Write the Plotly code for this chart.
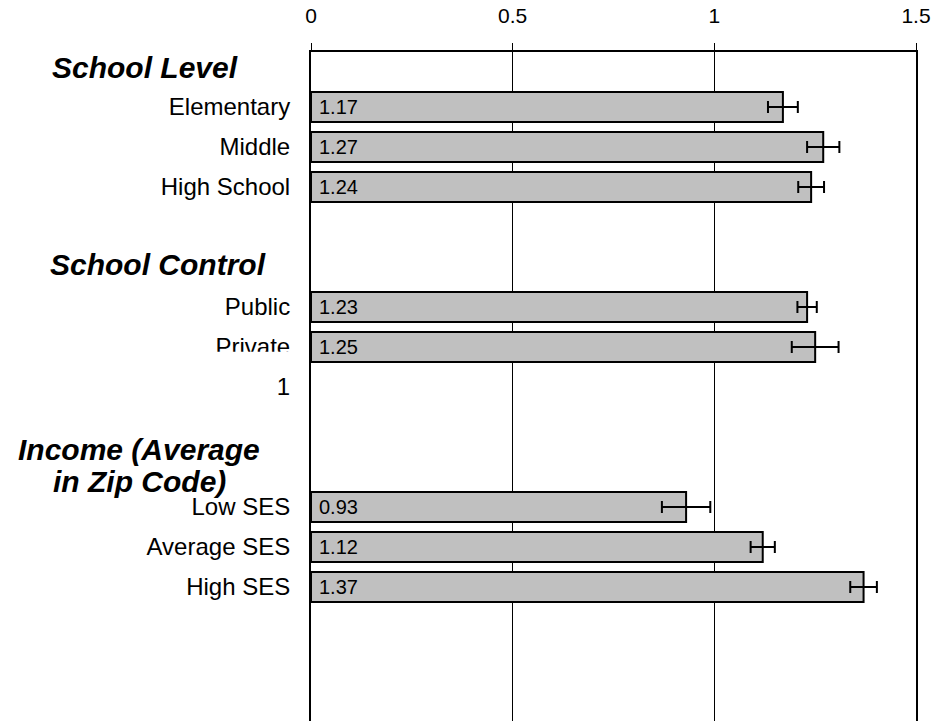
import plotly.graph_objects as go

# ---- data ----
categories = ["Elementary", "Middle", "High School", "Public", "Private",
              "Low SES", "Average SES", "High SES"]
values = [1.17, 1.27, 1.24, 1.23, 1.25, 0.93, 1.12, 1.37]
errors = [0.037, 0.040, 0.032, 0.024, 0.058, 0.060, 0.030, 0.033]
headers = ["School Level", "School Control", "Income (Average<br>in Zip Code)"]
stray_labels = ["1"]
x_ticks = [0, 0.5, 1, 1.5]
x_ticktext = ["0", "0.5", "1", "1.5"]

# row order of the category axis (top to bottom)
row_order = ([headers[0]] + categories[0:3] + ["gap1", headers[1]] +
             categories[3:5] + stray_labels + ["gap2", headers[2]] +
             categories[5:8] + ["gap3", "gap4", "gap5"])

header_xshift = [-166, -153, -172]
header_yshift = [0, 3, 2]
LINE_SP = 32

fig = go.Figure()
fig.add_trace(go.Bar(
    x=values, y=categories, orientation="h", width=0.75,
    marker=dict(color="#C0C0C0", line=dict(color="black", width=2)),
    error_x=dict(type="data", array=errors, color="black", thickness=2, width=6),
    showlegend=False, hoverinfo="x+y",
))

annotations = []
for cat, v in zip(categories, values):
    annotations.append(dict(
        x=0, y=row_order.index(cat), xref="x", yref="y",
        text=f"{v:.2f}", showarrow=False, xanchor="left", yanchor="middle",
        xshift=6, font=dict(family="Liberation Sans, Arial", size=20, color="black"),
    ))
for h, xs, ys in zip(headers, header_xshift, header_yshift):
    lines = h.split("<br>")
    n = len(lines)
    for i, line in enumerate(lines):
        annotations.append(dict(
            x=0, y=row_order.index(h), xref="paper", yref="y",
            text=line, showarrow=False, xanchor="center", yanchor="middle",
            xshift=xs, yshift=ys + ((n - 1) / 2 - i) * LINE_SP,
            font=dict(family="Liberation Sans, Arial", size=30, color="black",
                      weight="bold", style="italic"),
        ))

priv = row_order.index("Private")
shapes = [dict(type="rect", xref="paper", yref="y", x0=-0.35, x1=-0.006,
               y0=priv + 0.12, y1=priv + 0.55, fillcolor="white",
               line=dict(width=0), layer="above")]

fig.update_layout(
    width=931, height=721,
    margin=dict(l=311, r=15, t=52, b=0, pad=0),
    plot_bgcolor="white", paper_bgcolor="white",
    font=dict(family="Liberation Sans, Arial", color="black"),
    annotations=annotations, shapes=shapes,
    xaxis=dict(side="top", range=[0, 1.5], tickvals=x_ticks, ticktext=x_ticktext,
               showgrid=True, gridcolor="black", gridwidth=1,
               showline=True, linecolor="black", linewidth=2,
               ticks="outside", ticklen=7, tickcolor="black", tickwidth=1,
               tickfont=dict(size=21), zeroline=False, ticklabelstandoff=12),
    yaxis=dict(type="category", categoryorder="array", categoryarray=row_order,
               range=[16.35, -0.375], showline=True, mirror=True,
               linecolor="black", linewidth=2,
               tickvals=categories + stray_labels, ticktext=categories + stray_labels,
               ticks="", ticklabelstandoff=14, tickfont=dict(size=24),
               showgrid=False, zeroline=False),
    bargap=0.25,
)

fig.write_html(
    "out.html",
    config={"displayModeBar": False},
    post_script="document.body.style.margin='0';document.body.style.overflow='hidden';",
)
